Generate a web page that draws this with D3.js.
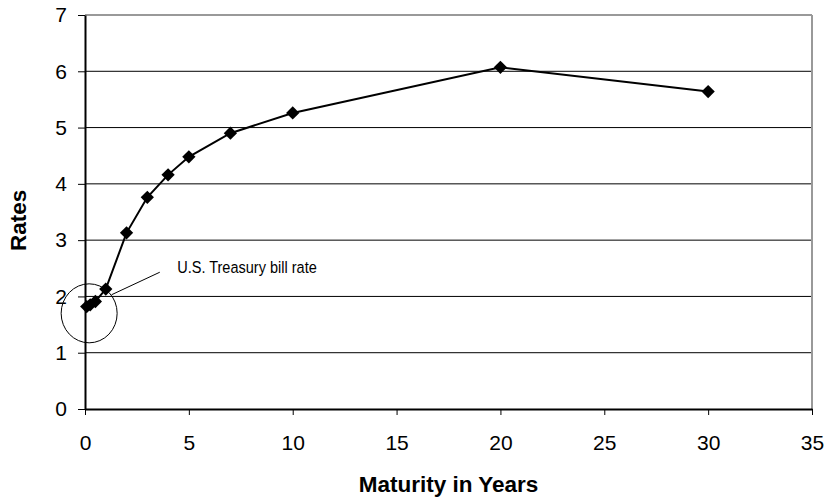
<!DOCTYPE html>
<meta charset="utf-8">
<html lang="en"></html>

<!-- load d3.js -->
<script src="https://d3js.org/d3.v7.min.js"></script>

<style>
    body { margin: 0; background: #fff; }
</style>

<div id="chart"></div>

<script>

    // yield curve data
    const maturities = [0.083, 0.25, 0.5, 1, 2, 3, 4, 5, 7, 10, 20, 30];
    const rates      = [1.82, 1.85, 1.91, 2.13, 3.13, 3.76, 4.16, 4.48, 4.90, 5.26, 6.07, 5.64];
    const xTicks = [0, 5, 10, 15, 20, 25, 30, 35];
    const yTicks = [0, 1, 2, 3, 4, 5, 6, 7];
    const noteText = "U.S. Treasury bill rate";

    const data = maturities.map(function(m, i) { return {x: m, y: rates[i]}; });

    // set dimensions and margins
    const W = 828, H = 500;
    const margin = {top: 15, right: 16, bottom: 91, left: 85},
        width = W - margin.left - margin.right,
        height = H - margin.top - margin.bottom;

    const svg = d3.select("#chart")
        .append("svg")
            .attr("width", W)
            .attr("height", H);
    const g = svg.append("g")
            .attr("transform", "translate(" + margin.left + "," + margin.top + ")");

    const x = d3.scaleLinear().domain([0, 35]).range([0, width]);
    const y = d3.scaleLinear().domain([0, 7]).range([height, 0]);

    // gridlines
    g.selectAll(".grid")
        .data(yTicks.filter(function(t) { return t > 0; }))
        .enter()
        .append("line")
            .attr("x1", 0)
            .attr("x2", width)
            .attr("y1", function(d) { return y(d); })
            .attr("y2", function(d) { return y(d); })
            .attr("stroke", function(d) { return d === 7 ? "#999" : "#000"; })
            .attr("stroke-width", function(d) { return d === 7 ? 2 : 1; });

    // right border
    g.append("line")
        .attr("x1", width).attr("x2", width)
        .attr("y1", 0).attr("y2", height)
        .attr("stroke", "#999")
        .attr("stroke-width", 2);

    // X axis
    const xAxis = g.append("g")
        .attr("transform", "translate(0," + height + ")")
        .call(d3.axisBottom(x).tickValues(xTicks).tickFormat(d3.format("d"))
            .tickSize(6).tickSizeOuter(0).tickPadding(20));
    xAxis.select(".domain").attr("stroke-width", 2);
    xAxis.selectAll("text")
        .attr("font-family", "Liberation Sans, Arial, sans-serif")
        .attr("font-size", "21px")
        .attr("fill", "#000");

    // Y axis
    const yAxis = g.append("g")
        .call(d3.axisLeft(y).tickValues(yTicks).tickFormat(d3.format("d"))
            .tickSize(7).tickSizeOuter(0).tickPadding(11));
    yAxis.select(".domain").attr("stroke-width", 2);
    yAxis.selectAll("text")
        .attr("font-family", "Liberation Sans, Arial, sans-serif")
        .attr("font-size", "21px")
        .attr("fill", "#000");

    // axis titles
    svg.append("text")
        .text("Maturity in Years")
        .attr("x", margin.left + x(17.5))
        .attr("y", 492)
        .attr("text-anchor", "middle")
        .attr("font-family", "Liberation Sans, Arial, sans-serif")
        .attr("font-weight", "bold")
        .attr("font-size", "22.5px");

    svg.append("text")
        .text("Rates")
        .attr("transform", "translate(26," + (margin.top + y(3.35)) + ")rotate(-90)")
        .attr("text-anchor", "middle")
        .attr("font-family", "Liberation Sans, Arial, sans-serif")
        .attr("font-weight", "bold")
        .attr("font-size", "22.5px");

    // the line
    const line = d3.line()
        .x(function(d) { return x(d.x); })
        .y(function(d) { return y(d.y); });
    g.append("path")
        .datum(data)
        .attr("d", line)
        .attr("fill", "none")
        .attr("stroke", "#000")
        .attr("stroke-width", 2);

    // diamond markers
    const diamond = d3.symbol().type(d3.symbolSquare).size(88);
    g.selectAll(".pt")
        .data(data)
        .enter()
        .append("path")
            .attr("d", diamond)
            .attr("transform", function(d) { return "translate(" + x(d.x) + "," + y(d.y) + ")rotate(45)"; })
            .attr("fill", "#000");

    // annotation: circle, leader and label
    g.append("ellipse")
        .attr("cx", x(0.2))
        .attr("cy", y(1.7))
        .attr("rx", 28)
        .attr("ry", 29.5)
        .attr("fill", "none")
        .attr("stroke", "#000")
        .attr("stroke-width", 1);
    g.append("line")
        .attr("x1", x(1.28)).attr("y1", y(2.03))
        .attr("x2", x(3.6)).attr("y2", y(2.43))
        .attr("stroke", "#000")
        .attr("stroke-width", 1);
    // narrow label: squeeze a regular face horizontally
    g.append("text")
        .text(noteText)
        .attr("transform", "translate(" + x(4.44) + "," + y(2.41) + ")scale(0.88,1)")
        .attr("font-family", "Liberation Sans, Arial, sans-serif")
        .attr("font-size", "16.5px")
        .attr("fill", "#000");
</script>
